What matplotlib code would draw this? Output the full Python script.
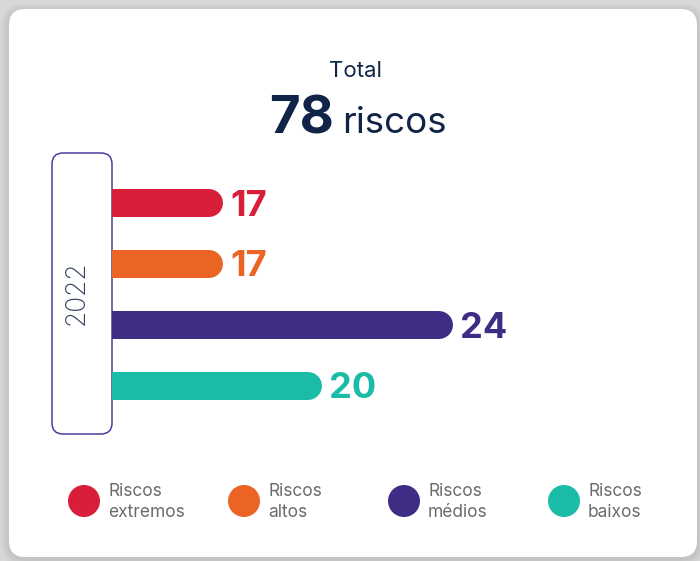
import matplotlib.pyplot as plt
from matplotlib.patches import FancyBboxPatch, Circle

plt.rcParams['font.family'] = ['Inter', 'DejaVu Sans']

categories = ['Riscos extremos', 'Riscos altos', 'Riscos médios', 'Riscos baixos']
legend_labels = ['Riscos\nextremos', 'Riscos\naltos', 'Riscos\nmédios', 'Riscos\nbaixos']
values = [17, 17, 24, 20]
colors = ['#d91e3a', '#ec6424', '#3f2d85', '#1bbca7']
year = '2022'
total = sum(values)

W, H = 700, 561
fig = plt.figure(figsize=(W / 100, H / 100), dpi=100, facecolor='#d8d8d8')

# background layer in pixel coordinates
bg = fig.add_axes([0, 0, 1, 1])
bg.set_xlim(0, W)
bg.set_ylim(H, 0)
bg.axis('off')

# soft shadow + white card
for i, a in enumerate([0.05, 0.06, 0.07, 0.08]):
    pad = 8 - 2 * i
    bg.add_patch(FancyBboxPatch((9 - pad, 9 - pad + 2), 688 + 2 * pad, 548 + 2 * pad,
                                boxstyle='round,pad=0,rounding_size=%d' % (16 + pad),
                                fc='#8a8a8a', ec='none', alpha=a))
bg.add_patch(FancyBboxPatch((9, 9), 688, 548, boxstyle='round,pad=0,rounding_size=16',
                            fc='white', ec='none'))

# title
navy = '#0f2447'
fig.text(356 / W, 1 - 71 / H, 'Total', ha='center', va='center', fontsize=16, color=navy)
fig.text(334 / W, 1 - 133 / H, str(total), ha='right', va='baseline', fontsize=38,
         fontweight='bold', color=navy)
fig.text(342 / W, 1 - 133 / H, 'riscos', ha='left', va='baseline', fontsize=26.5, color=navy)

# year box
bg.add_patch(FancyBboxPatch((52, 153), 60, 281, boxstyle='round,pad=0,rounding_size=11',
                            fc='white', ec='#4b3d9e', lw=1.1, zorder=3))
bg.text(77, 293, year, rotation=90, ha='center', va='center', fontsize=19,
        fontweight='light', color='#2e3e5c', zorder=4)

# bar axes
ax_l, ax_r, ax_t, ax_b = 112, 600, 172, 416
ax = fig.add_axes([ax_l / W, 1 - ax_b / H, (ax_r - ax_l) / W, (ax_b - ax_t) / H])
ax.patch.set_alpha(0)
ax.axis('off')
xmin, xmax = 13.6, 28.5
ax.set_xlim(xmin, xmax)
ax.set_ylim(len(values) - 0.5, -0.5)

px_per_unit = (ax_r - ax_l) / (xmax - xmin)
bar_px = 28
r = (bar_px / 2) / px_per_unit
for i, (v, c) in enumerate(zip(values, colors)):
    ax.plot([0, v - r], [i, i], color=c, lw=bar_px * 72 / 100, solid_capstyle='round', zorder=2)
    ax.text(v + 7 / px_per_unit, i, str(v), ha='left', va='center_baseline', fontsize=26,
            fontweight='bold', color=c)

# legend
for i, (lab, c) in enumerate(zip(legend_labels, colors)):
    cx = 84 + i * 160
    bg.add_patch(Circle((cx, 501), 16, fc=c, ec='none'))
    bg.text(cx + 24, 502, lab, ha='left', va='center', fontsize=12.5, color='#6b6b6b',
            linespacing=1.35)

fig.savefig('out.png', dpi=100, facecolor=fig.get_facecolor())
